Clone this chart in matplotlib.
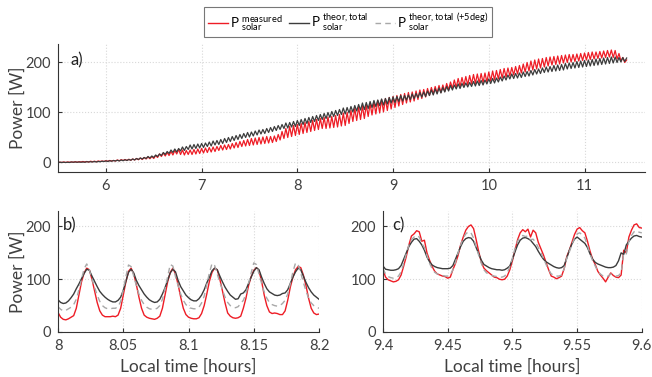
import matplotlib
matplotlib.use('Agg')
import matplotlib.pyplot as plt
import numpy as np

plt.rcParams['font.family'] = ['Lato', 'DejaVu Sans']
plt.rcParams['mathtext.fontset'] = 'custom'
plt.rcParams['mathtext.rm'] = 'Lato'

# ---- panel a: per-cycle troughs / peaks (one cycle every 0.04 h from 5.5 h)
t0_a = 5.5
dt_a = 0.02
gray_lo = [
    0, 0, 0, 0, 0.5, 0.5, 0.5, 0.5, 1, 1, 1, 1.5, 2, 2, 2.5, 3, 3, 3.5, 4, 4.5, 5, 6, 7, 8, 9,
    10, 12, 14, 16, 18, 20, 21, 23, 24, 26, 27, 28, 29, 30, 32, 33, 35, 36, 38, 40, 42, 44, 46, 48, 50,
    51, 53, 55, 57, 58, 60, 62, 64, 66, 68, 69, 71, 72, 74, 76, 78, 80, 82, 84, 86, 88, 90, 92, 94, 96,
    97, 99, 101, 103, 105, 106, 108, 110, 112, 114, 115, 117, 119, 120, 122, 123, 125, 126, 128, 130, 131, 132, 134, 135, 137,
    139, 141, 143, 145, 147, 148, 150, 151, 152, 153, 154, 155, 157, 158, 159, 161, 163, 165, 167, 168, 169, 170, 172, 173, 175,
    177, 178, 180, 181, 182, 183, 184, 185, 187, 188, 189, 190, 191, 192, 193, 194, 195, 196, 197, 198, 199, 200, 201, 202]
gray_hi = [
    0.5, 0.5, 0.5, 1, 1, 1, 1, 1.5, 1.5, 2, 2, 2.5, 3, 3.5, 4, 4.5, 5, 5.5, 6, 7, 8, 9, 10, 12, 13,
    15, 17, 20, 22, 25, 27, 28, 31, 32, 35, 36, 37, 38, 39, 41, 43, 44, 46, 48, 50, 52, 54, 56, 58, 60,
    61, 63, 65, 66, 68, 70, 72, 74, 76, 79, 80, 82, 84, 86, 88, 90, 92, 94, 96, 98, 100, 102, 104, 106, 109,
    110, 112, 114, 116, 119, 120, 122, 124, 125, 127, 128, 130, 131, 132, 134, 134, 135, 137, 138, 140, 141, 143, 145, 147, 149,
    150, 152, 154, 155, 157, 158, 159, 160, 162, 163, 164, 165, 167, 168, 169, 171, 173, 175, 177, 178, 179, 181, 182, 184, 186,
    187, 189, 191, 192, 194, 195, 196, 198, 199, 200, 202, 203, 204, 205, 206, 207, 208, 209, 210, 211, 211, 210, 210, 209]
red_lo = [
    0, 0, 0, 0.5, 0.5, 0.5, 1, 1, 1, 1.5, 1.5, 2, 2, 2.5, 3, 3, 3.5, 4, 4, 4.5, 5, 5.5, 6, 7, 7.5,
    8, 10, 12, 13, 14, 15, 17, 16, 15, 16, 16, 17, 18, 19, 20, 21, 22, 24, 25, 26, 27, 29, 30, 32, 33,
    34, 35, 36, 37, 38, 39, 40, 42, 45, 48, 50, 52, 54, 56, 58, 60, 62, 64, 66, 68, 68, 69, 70, 71, 73,
    74, 78, 82, 84, 86, 88, 92, 95, 97, 99, 101, 104, 107, 110, 113, 116, 119, 121, 123, 126, 128, 131, 134, 137, 139,
    140, 142, 145, 148, 150, 152, 154, 155, 157, 158, 159, 160, 161, 163, 165, 167, 169, 171, 173, 175, 177, 179, 181, 183, 185,
    187, 189, 191, 193, 195, 196, 197, 199, 200, 201, 202, 203, 204, 205, 206, 207, 208, 209, 210, 211, 210, 207, 203, 200]
red_hi = [
    0.5, 1, 1, 1, 1.5, 1.5, 2, 2, 2.5, 2.5, 3, 3, 3.5, 4, 4, 5, 5.5, 6, 6.5, 7, 8, 9, 10, 11, 12,
    14, 17, 19, 20, 22, 24, 26, 25, 24, 25, 26, 27, 28, 29, 30, 31, 32, 34, 35, 36, 38, 40, 42, 44, 46,
    48, 49, 50, 51, 52, 52, 53, 56, 62, 68, 72, 74, 76, 78, 80, 82, 84, 86, 88, 90, 91, 92, 94, 96, 99,
    100, 104, 108, 111, 113, 115, 118, 121, 124, 126, 128, 130, 132, 134, 136, 138, 140, 141, 143, 145, 146, 148, 150, 152, 154,
    155, 158, 161, 165, 168, 170, 172, 174, 176, 177, 178, 179, 181, 183, 184, 186, 188, 189, 190, 192, 194, 197, 200, 203, 205,
    207, 208, 210, 211, 212, 213, 214, 215, 216, 216, 217, 218, 219, 220, 221, 221, 222, 223, 224, 225, 224, 218, 210, 205]

# ---- panel b: 8.0 .. 8.2 h, every 0.002 h
b_meas = [
    37, 28, 24, 23, 25, 28, 31, 45, 70, 95, 112, 121, 118, 100, 78, 56, 40, 32, 29, 29,
    29, 30, 29, 32, 45, 70, 95, 115, 121, 110, 90, 66, 45, 32, 28, 26, 25, 24, 26, 30,
    45, 70, 95, 113, 121, 110, 90, 66, 45, 33, 28, 26, 25, 25, 27, 35, 50, 72, 96, 113,
    121, 118, 100, 78, 55, 36, 30, 27, 26, 27, 30, 45, 64, 88, 105, 117, 122, 116, 96, 70,
    50, 38, 35, 36, 35, 33, 33, 40, 60, 85, 104, 118, 124, 122, 108, 88, 64, 45, 36, 33, 34]
b_theor = [
    61, 56, 54, 55, 59, 65, 72, 82, 91, 101, 111, 119, 117, 106, 96, 86, 77, 71, 66, 62,
    59, 57, 57, 60, 66, 79, 96, 113, 119, 112, 98, 88, 80, 72, 66, 61, 58, 56, 57, 62,
    72, 84, 98, 112, 119, 114, 98, 86, 78, 70, 65, 61, 59, 59, 63, 70, 80, 93, 104, 116,
    121, 118, 106, 95, 85, 77, 70, 66, 62, 63, 72, 74, 80, 92, 104, 115, 122, 118, 104, 92,
    82, 76, 73, 70, 69, 70, 73, 74, 80, 92, 104, 114, 121, 118, 106, 94, 84, 76, 70, 66, 62]
b_theor5 = [
    48, 43, 40, 41, 44, 47, 52, 62, 80, 100, 120, 129, 118, 100, 85, 70, 58, 50, 46, 44,
    44, 45, 45, 48, 58, 80, 105, 127, 124, 106, 88, 72, 60, 52, 47, 44, 43, 43, 45, 50,
    62, 82, 105, 128, 125, 105, 88, 72, 60, 52, 47, 45, 44, 44, 47, 55, 68, 90, 112, 130,
    126, 110, 94, 80, 66, 56, 50, 47, 46, 48, 54, 60, 72, 92, 112, 131, 128, 110, 92, 76,
    64, 56, 52, 50, 49, 50, 54, 60, 72, 92, 114, 131, 128, 112, 94, 78, 64, 55, 50, 47, 45]

# ---- panel c: 9.4 .. 9.6 h, every 0.002 h
c_meas = [
    118, 104, 99, 97, 95, 96, 99, 108, 125, 143, 165, 182, 186, 192, 190, 172, 174, 150, 136, 124,
    115, 110, 108, 106, 105, 102, 104, 118, 130, 145, 165, 180, 193, 200, 203, 196, 175, 152, 132, 121,
    116, 112, 108, 104, 103, 100, 99, 100, 106, 118, 135, 155, 175, 188, 194, 190, 195, 180, 193, 188,
    170, 158, 146, 132, 118, 106, 104, 101, 103, 106, 120, 143, 155, 170, 185, 195, 198, 192, 188, 172,
    153, 138, 128, 115, 108, 102, 95, 104, 112, 107, 104, 103, 108, 155, 150, 180, 193, 203, 205, 198, 197]
c_theor = [
    125, 119, 118, 117, 117, 118, 120, 126, 138, 150, 162, 170, 176, 177, 172, 165, 155, 142, 133, 127,
    124, 122, 121, 120, 120, 120, 121, 126, 138, 150, 162, 172, 177, 179, 178, 172, 160, 148, 136, 128,
    125, 122, 120, 119, 118, 118, 117, 118, 121, 125, 138, 152, 165, 174, 178, 179, 177, 174, 168, 162,
    153, 145, 138, 133, 130, 127, 124, 122, 121, 122, 126, 140, 155, 167, 176, 180, 176, 172, 168, 160,
    148, 138, 132, 129, 127, 125, 123, 122, 122, 123, 126, 135, 150, 147, 165, 172, 178, 182, 183, 181, 180]
c_theor5 = [
    120, 110, 105, 103, 102, 103, 106, 114, 130, 148, 165, 175, 180, 183, 180, 168, 160, 145, 130, 120,
    113, 110, 108, 107, 106, 106, 108, 118, 132, 150, 165, 178, 186, 190, 188, 178, 162, 145, 130, 118,
    112, 110, 107, 106, 105, 104, 104, 106, 112, 124, 140, 158, 172, 180, 183, 181, 182, 175, 176, 170,
    160, 150, 140, 128, 118, 110, 108, 106, 106, 108, 120, 140, 152, 166, 178, 186, 188, 184, 178, 164,
    148, 135, 125, 115, 110, 106, 104, 106, 110, 108, 106, 107, 112, 150, 148, 172, 183, 190, 192, 189, 188]

xt_a = [6, 7, 8, 9, 10, 11]
xt_b = [8, 8.05, 8.1, 8.15, 8.2]
xt_b_labels = ['8', '8.05', '8.1', '8.15', '8.2']
xt_c = [9.4, 9.45, 9.5, 9.55, 9.6]
xt_c_labels = ['9.4', '9.45', '9.5', '9.55', '9.6']
yt = [0, 100, 200]

legend_labels = [r'P $^{\mathrm{measured}}_{\mathrm{solar}}$',
                 r'P $^{\mathrm{theor,total}}_{\mathrm{solar}}$',
                 r'P $^{\mathrm{theor,total\ (+5deg)}}_{\mathrm{solar}}$']

RED = '#ee1c25'
DARK = '#3c3c3c'
LIGHT = '#a8a8a8'
AXC = '#333333'


def style(ax):
    for s in ['top', 'right']:
        ax.spines[s].set_visible(False)
    for s in ['left', 'bottom']:
        ax.spines[s].set_color(AXC)
        ax.spines[s].set_linewidth(0.8)
    ax.tick_params(direction='in', length=3, width=0.8, color=AXC,
                   labelcolor='#404040', labelsize=10.5, pad=5)
    ax.grid(True, linestyle=':', color='#d8d8d8', linewidth=0.8)
    ax.set_axisbelow(True)


fig = plt.figure(figsize=(6.52, 3.77), dpi=100)

# panel a
ax_a = fig.add_axes([0.0890, 0.5438, 0.900, 0.3395])
t_a = t0_a + dt_a * np.arange(2 * len(gray_lo))
ya_gray = np.column_stack((gray_lo, gray_hi)).ravel()
ya_red = np.column_stack((red_lo, red_hi)).ravel()
ax_a.plot(t_a, ya_red, color=RED, lw=0.9)
ax_a.plot(t_a, ya_gray, color=DARK, lw=0.9)
ax_a.set_xlim(5.5, 11.63)
ax_a.set_ylim(-19, 237)
ax_a.set_xticks(xt_a)
ax_a.set_yticks(yt)
ax_a.set_ylabel('Power [W]', fontsize=12.5, color='#404040', labelpad=0)
ax_a.text(0.022, 0.87, 'a)', transform=ax_a.transAxes, fontsize=12,
          color='#222222', va='center')
style(ax_a)

# panel b
ax_b = fig.add_axes([0.0890, 0.1194, 0.4003, 0.3218])
t_b = np.linspace(8.0, 8.2, len(b_meas))
lb1, = ax_b.plot(t_b, b_meas, color=RED, lw=1.0)
lb2, = ax_b.plot(t_b, b_theor, color=DARK, lw=1.0)
lb3, = ax_b.plot(t_b, b_theor5, color=LIGHT, lw=1.0, ls=(0, (4, 3)))
ax_b.set_xlim(8.0, 8.2)
ax_b.set_ylim(0, 230)
ax_b.set_xticks(xt_b)
ax_b.set_xticklabels(xt_b_labels)
ax_b.set_yticks(yt)
ax_b.set_ylabel('Power [W]', fontsize=12.5, color='#404040', labelpad=0)
ax_b.set_xlabel('Local time [hours]', fontsize=12.5, color='#404040', labelpad=4)
ax_b.text(0.02, 0.875, 'b)', transform=ax_b.transAxes, fontsize=12,
          color='#222222', va='center')
style(ax_b)

# panel c
ax_c = fig.add_axes([0.5874, 0.1194, 0.397, 0.3218])
t_c = np.linspace(9.4, 9.6, len(c_meas))
ax_c.plot(t_c, c_meas, color=RED, lw=1.0)
ax_c.plot(t_c, c_theor, color=DARK, lw=1.0)
ax_c.plot(t_c, c_theor5, color=LIGHT, lw=1.0, ls=(0, (4, 3)))
ax_c.set_xlim(9.4, 9.6)
ax_c.set_ylim(0, 230)
ax_c.set_xticks(xt_c)
ax_c.set_xticklabels(xt_c_labels)
ax_c.set_yticks(yt)
ax_c.set_xlabel('Local time [hours]', fontsize=12.5, color='#404040', labelpad=4)
ax_c.text(0.035, 0.875, 'c)', transform=ax_c.transAxes, fontsize=12,
          color='#222222', va='center')
style(ax_c)

leg = fig.legend([lb1, lb2, lb3], legend_labels, loc='center',
                 bbox_to_anchor=(0.534, 0.942), ncol=3, fontsize=9.5,
                 frameon=True, fancybox=False, handlelength=1.5,
                 handletextpad=0.15, columnspacing=0.5, borderpad=0.3)
leg.get_frame().set_edgecolor('#555555')
leg.get_frame().set_linewidth(0.8)

fig.savefig('out.png', dpi=100)
